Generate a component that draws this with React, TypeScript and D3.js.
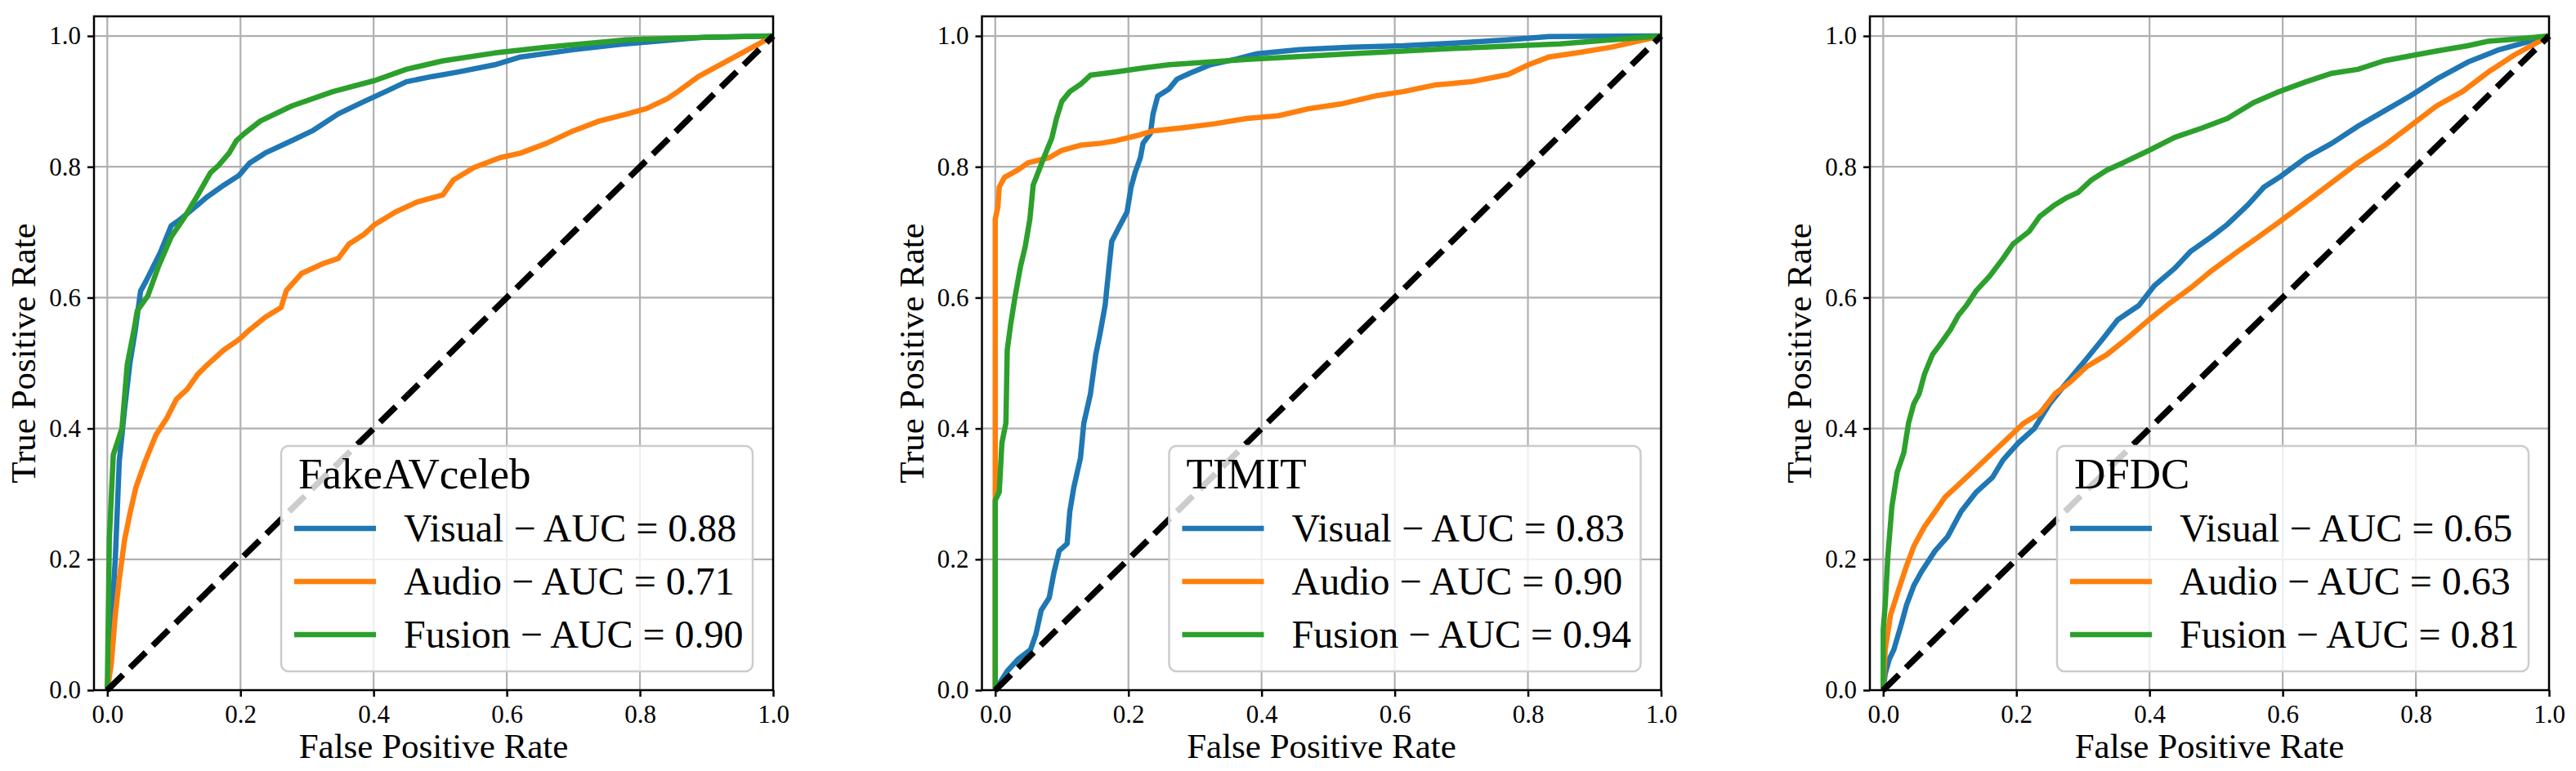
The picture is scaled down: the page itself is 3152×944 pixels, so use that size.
import React, { useEffect, useRef } from 'react';
import * as d3 from 'd3';

// ROC points as [false positive rate, true positive rate]
const fakeavVisual: [number, number][] = [
    [0, 0], [0.006, 0.1], [0.012, 0.2], [0.018, 0.35], [0.026, 0.43], [0.034, 0.5], [0.042, 0.55],
    [0.05, 0.61], [0.058, 0.625], [0.08, 0.67], [0.096, 0.71], [0.11, 0.72], [0.136, 0.742],
    [0.15, 0.754], [0.175, 0.772], [0.198, 0.787], [0.214, 0.806], [0.237, 0.821], [0.277, 0.84],
    [0.308, 0.855], [0.347, 0.881], [0.386, 0.9], [0.418, 0.915], [0.449, 0.93], [0.488, 0.938],
    [0.527, 0.945], [0.582, 0.956], [0.621, 0.968], [0.7, 0.979], [0.778, 0.988], [0.896, 0.998], [1, 1]
];
const fakeavAudio: [number, number][] = [
    [0, 0], [0.006, 0.04], [0.012, 0.115], [0.018, 0.17], [0.026, 0.23], [0.034, 0.27], [0.043, 0.31],
    [0.057, 0.35], [0.073, 0.39], [0.089, 0.415], [0.104, 0.445], [0.12, 0.46], [0.136, 0.483],
    [0.151, 0.498], [0.175, 0.52], [0.198, 0.536], [0.214, 0.551], [0.237, 0.57], [0.261, 0.585],
    [0.269, 0.611], [0.292, 0.637], [0.324, 0.652], [0.347, 0.66], [0.363, 0.682], [0.386, 0.697],
    [0.402, 0.712], [0.433, 0.731], [0.465, 0.746], [0.504, 0.757], [0.52, 0.78], [0.551, 0.799],
    [0.59, 0.814], [0.621, 0.821], [0.66, 0.836], [0.7, 0.855], [0.739, 0.87], [0.778, 0.88],
    [0.81, 0.889], [0.841, 0.904], [0.857, 0.915], [0.888, 0.938], [0.935, 0.964], [1, 1]
];
const fakeavFusion: [number, number][] = [
    [0, 0], [0.003, 0.23], [0.009, 0.36], [0.022, 0.4], [0.03, 0.498], [0.04, 0.55], [0.045, 0.58],
    [0.061, 0.603], [0.077, 0.648], [0.096, 0.693], [0.116, 0.723], [0.132, 0.75], [0.155, 0.791],
    [0.167, 0.802], [0.183, 0.821], [0.194, 0.84], [0.206, 0.851], [0.23, 0.87], [0.277, 0.893],
    [0.339, 0.915], [0.402, 0.932], [0.449, 0.949], [0.504, 0.962], [0.582, 0.974], [0.66, 0.983],
    [0.778, 0.994], [0.896, 0.998], [1, 1]
];

const timitVisual: [number, number][] = [
    [0, 0], [0.018, 0.029], [0.034, 0.047], [0.053, 0.062], [0.061, 0.085], [0.069, 0.122],
    [0.081, 0.141], [0.088, 0.179], [0.096, 0.213], [0.108, 0.224], [0.112, 0.273], [0.118, 0.31],
    [0.128, 0.355], [0.133, 0.408], [0.143, 0.453], [0.151, 0.513], [0.157, 0.543], [0.165, 0.588],
    [0.171, 0.648], [0.175, 0.686], [0.186, 0.708], [0.198, 0.731], [0.204, 0.769], [0.21, 0.791],
    [0.218, 0.814], [0.222, 0.836], [0.233, 0.851], [0.237, 0.881], [0.244, 0.908], [0.261, 0.919],
    [0.273, 0.934], [0.292, 0.943], [0.323, 0.956], [0.363, 0.965], [0.394, 0.973], [0.457, 0.979],
    [0.535, 0.983], [0.613, 0.985], [0.691, 0.989], [0.77, 0.994], [0.832, 0.999], [1, 1]
];
const timitAudio: [number, number][] = [
    [0, 0], [0, 0.72], [0.004, 0.739], [0.006, 0.769], [0.014, 0.784], [0.034, 0.795], [0.049, 0.806],
    [0.081, 0.814], [0.1, 0.825], [0.128, 0.833], [0.159, 0.836], [0.182, 0.84], [0.214, 0.848],
    [0.237, 0.855], [0.284, 0.86], [0.331, 0.866], [0.378, 0.874], [0.425, 0.878], [0.472, 0.889],
    [0.519, 0.896], [0.574, 0.909], [0.613, 0.915], [0.66, 0.925], [0.715, 0.93], [0.77, 0.941],
    [0.801, 0.956], [0.832, 0.968], [0.879, 0.975], [0.926, 0.983], [1, 1]
];
const timitFusion: [number, number][] = [
    [0, 0], [0, 0.29], [0.006, 0.303], [0.01, 0.378], [0.016, 0.408], [0.018, 0.52], [0.023, 0.558],
    [0.03, 0.603], [0.038, 0.648], [0.045, 0.678], [0.052, 0.72], [0.057, 0.772], [0.073, 0.814],
    [0.085, 0.844], [0.092, 0.874], [0.1, 0.9], [0.112, 0.915], [0.128, 0.926], [0.143, 0.94],
    [0.182, 0.945], [0.222, 0.951], [0.261, 0.956], [0.378, 0.964], [0.535, 0.973], [0.691, 0.981],
    [0.848, 0.988], [1, 1]
];

const dfdcVisual: [number, number][] = [
    [0, 0], [0.003, 0.025], [0.009, 0.047], [0.016, 0.062], [0.027, 0.1], [0.035, 0.13], [0.046, 0.16],
    [0.058, 0.182], [0.078, 0.213], [0.097, 0.235], [0.117, 0.273], [0.14, 0.303], [0.164, 0.325],
    [0.18, 0.352], [0.203, 0.378], [0.227, 0.4], [0.25, 0.438], [0.274, 0.468], [0.305, 0.506],
    [0.329, 0.536], [0.352, 0.566], [0.384, 0.588], [0.407, 0.618], [0.438, 0.645], [0.462, 0.671],
    [0.493, 0.693], [0.517, 0.712], [0.548, 0.742], [0.572, 0.769], [0.595, 0.784], [0.635, 0.814],
    [0.674, 0.836], [0.713, 0.862], [0.752, 0.885], [0.791, 0.908], [0.831, 0.934], [0.878, 0.96],
    [0.925, 0.979], [0.964, 0.99], [1, 1]
];
const dfdcAudio: [number, number][] = [
    [0, 0], [0.003, 0.062], [0.011, 0.115], [0.023, 0.153], [0.035, 0.19], [0.046, 0.22], [0.062, 0.25],
    [0.078, 0.273], [0.093, 0.295], [0.109, 0.31], [0.133, 0.333], [0.156, 0.355], [0.18, 0.378],
    [0.211, 0.408], [0.235, 0.423], [0.258, 0.453], [0.282, 0.472], [0.305, 0.494], [0.336, 0.513],
    [0.368, 0.539], [0.399, 0.566], [0.431, 0.592], [0.462, 0.615], [0.493, 0.641], [0.533, 0.671],
    [0.564, 0.693], [0.595, 0.716], [0.635, 0.746], [0.674, 0.776], [0.713, 0.806], [0.752, 0.832],
    [0.791, 0.862], [0.831, 0.893], [0.87, 0.915], [0.909, 0.945], [0.948, 0.971], [1, 1]
];
const dfdcFusion: [number, number][] = [
    [0, 0], [0, 0.092], [0.003, 0.13], [0.007, 0.205], [0.013, 0.28], [0.021, 0.333], [0.031, 0.363],
    [0.038, 0.408], [0.046, 0.438], [0.054, 0.453], [0.062, 0.483], [0.074, 0.513], [0.085, 0.528],
    [0.101, 0.551], [0.113, 0.573], [0.125, 0.588], [0.14, 0.611], [0.16, 0.633], [0.18, 0.66],
    [0.195, 0.682], [0.219, 0.701], [0.235, 0.724], [0.258, 0.742], [0.274, 0.752], [0.293, 0.761],
    [0.313, 0.78], [0.336, 0.795], [0.36, 0.806], [0.399, 0.825], [0.438, 0.845], [0.478, 0.859],
    [0.517, 0.874], [0.556, 0.898], [0.595, 0.915], [0.635, 0.93], [0.674, 0.943], [0.713, 0.949],
    [0.752, 0.962], [0.799, 0.971], [0.831, 0.977], [0.878, 0.985], [0.909, 0.992], [0.948, 0.995], [1, 1]
];

const datasets = ['FakeAVceleb', 'TIMIT', 'DFDC'];
const modalities = ['Visual', 'Audio', 'Fusion'];
const fakeavAuc = [0.88, 0.71, 0.90];
const timitAuc = [0.83, 0.90, 0.94];
const dfdcAuc = [0.65, 0.63, 0.81];
const tickValues = [0, 0.2, 0.4, 0.6, 0.8, 1.0];
const colors = ['#1f77b4', '#ff7f0e', '#2ca02c'];

const curves = [
    [fakeavVisual, fakeavAudio, fakeavFusion],
    [timitVisual, timitAudio, timitFusion],
    [dfdcVisual, dfdcAudio, dfdcFusion]
];
const aucs = [fakeavAuc, timitAuc, dfdcAuc];

const FONT = '"Liberation Serif", "Times New Roman", serif';

const RocPanels = () => {
    const ref = useRef<SVGSVGElement>(null);
    const totalWidth = 3152;
    const totalHeight = 944;
    const plotW = 831;
    const plotH = 825;
    const top = 20;

    useEffect(() => {
        drawChart();
    }, []);

    const drawChart = () => {
        const root = d3.select(ref.current);
        root.selectAll('*').remove();

        root.append('rect')
            .attr('width', totalWidth)
            .attr('height', totalHeight)
            .attr('fill', 'white');

        datasets.forEach((name, p) => {
            const left = 115 + p * 1086.5;
            const g = root.append('g').attr('transform', `translate(${left},${top})`);

            const x = d3.scaleLinear().domain([-0.02, 1.0]).range([0, plotW]);
            const y = d3.scaleLinear().domain([0, 1.03]).range([plotH, 0]);

            // grid
            g.append('g').selectAll('line').data(tickValues).enter().append('line')
                .attr('x1', d => x(d)).attr('x2', d => x(d))
                .attr('y1', 0).attr('y2', plotH)
                .attr('stroke', '#b0b0b0').attr('stroke-width', 2.2);
            g.append('g').selectAll('line').data(tickValues).enter().append('line')
                .attr('x1', 0).attr('x2', plotW)
                .attr('y1', d => y(d)).attr('y2', d => y(d))
                .attr('stroke', '#b0b0b0').attr('stroke-width', 2.2);

            // roc curves
            const line = d3.line<[number, number]>()
                .x(d => x(d[0]))
                .y(d => y(d[1]));

            const plot = g.append('g');
            curves[p].forEach((pts, i) => {
                plot.append('path')
                    .datum(pts)
                    .attr('fill', 'none')
                    .attr('stroke', colors[i])
                    .attr('stroke-width', 6.5)
                    .attr('stroke-linejoin', 'round')
                    .attr('d', line);
            });

            // chance line
            plot.append('path')
                .datum([[0, 0], [1, 1]] as [number, number][])
                .attr('fill', 'none')
                .attr('stroke', 'black')
                .attr('stroke-width', 7.5)
                .attr('stroke-dasharray', '27 12')
                .attr('d', line);

            // axes
            const xAxis = g.append('g')
                .attr('transform', `translate(0,${plotH})`)
                .call(d3.axisBottom(x).tickValues(tickValues).tickFormat(d3.format('.1f')).tickSize(8).tickPadding(6));
            const yAxis = g.append('g')
                .call(d3.axisLeft(y).tickValues(tickValues).tickFormat(d3.format('.1f')).tickSize(8).tickPadding(8));
            [xAxis, yAxis].forEach(ax => {
                ax.select('.domain').remove();
                ax.selectAll('line').attr('stroke', 'black').attr('stroke-width', 2.5);
                ax.selectAll('text')
                    .attr('font-family', FONT)
                    .attr('font-size', 31)
                    .attr('fill', 'black');
            });
            xAxis.selectAll('text').attr('dy', '0.85em');

            // frame
            g.append('rect')
                .attr('width', plotW)
                .attr('height', plotH)
                .attr('fill', 'none')
                .attr('stroke', 'black')
                .attr('stroke-width', 2.5);

            g.append('text')
                .attr('x', plotW / 2)
                .attr('y', 908)
                .attr('text-anchor', 'middle')
                .attr('font-family', FONT)
                .attr('font-size', 43)
                .text('False Positive Rate');

            g.append('text')
                .attr('transform', `translate(-72,${plotH / 2}) rotate(-90)`)
                .attr('text-anchor', 'middle')
                .attr('font-family', FONT)
                .attr('font-size', 43)
                .text('True Positive Rate');

            // legend, lower right
            const legW = 577;
            const legH = 276;
            const lx = plotW - 25 - legW;
            const ly = plotH - 23 - legH;
            const legend = g.append('g').attr('transform', `translate(${lx},${ly})`);
            legend.append('rect')
                .attr('width', legW)
                .attr('height', legH)
                .attr('rx', 9)
                .attr('fill', 'white')
                .attr('fill-opacity', 0.8)
                .attr('stroke', '#cccccc')
                .attr('stroke-width', 2.5);
            legend.append('text')
                .attr('x', 21)
                .attr('y', 52)
                .attr('font-family', FONT)
                .attr('font-size', 53)
                .text(name);
            const items = legend.selectAll('g.item')
                .data(modalities)
                .enter().append('g')
                .attr('class', 'item')
                .attr('transform', (d, i) => `translate(0,${101 + i * 65})`);
            items.append('line')
                .attr('x1', 16).attr('x2', 116)
                .attr('stroke', (d, i) => colors[i])
                .attr('stroke-width', 6.7);
            items.append('text')
                .attr('x', 150)
                .attr('y', 16)
                .attr('font-family', FONT)
                .attr('font-size', 48)
                .text((d, i) => `${d} \u2212 AUC = ${aucs[p][i].toFixed(2)}`);
        });
    };

    return (
        <svg
            ref={ref}
            width={totalWidth}
            height={totalHeight}
            style={{ position: 'absolute', left: 0, top: 0, display: 'block' }}
        ></svg>
    );
};

export default function App() {
    return <RocPanels />;
}
